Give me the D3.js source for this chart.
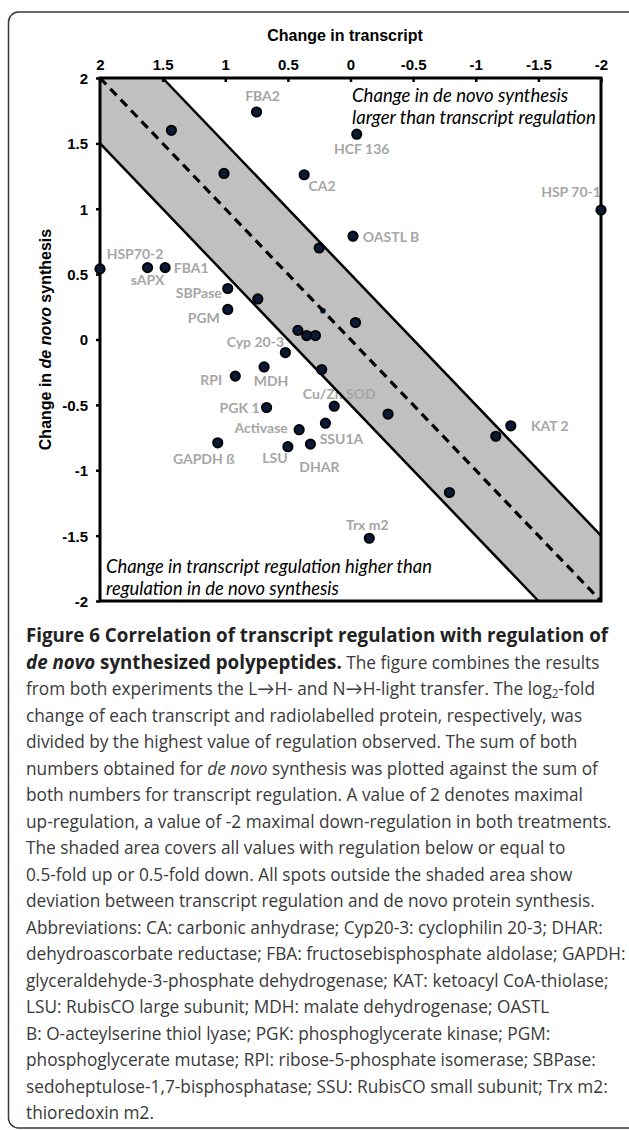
<!DOCTYPE html>
<html><head><meta charset="utf-8">
<script src="https://cdn.jsdelivr.net/npm/d3@7"></script>
<style>body{margin:0;background:#fff}</style>
</head><body>
<svg id="c" width="629" height="1130"></svg>
<script>
// ---------- data ----------
const labels = ["FBA2", null, "HCF 136", null, "CA2", "HSP 70-1", "OASTL B", null,
  "HSP70-2", "sAPX", "FBA1", "SBPase", null, "PGM", null, null, null, null, null,
  "Cyp 20-3", "MDH", "RPI", null, "Cu/Zn SOD", "PGK 1", null, "KAT 2", null,
  "SSU1A", "Activase", "GAPDH ß", "LSU", "DHAR", null, "Trx m2"];
const transcript = [0.75, 1.43, -0.05, 1.01, 0.37, -2.00, -0.02, 0.25,
  2.00, 1.62, 1.48, 0.98, 0.74, 0.98, 0.22, -0.04, 0.42, 0.35, 0.28,
  0.52, 0.69, 0.92, 0.23, 0.13, 0.67, -0.30, -1.28, -1.16,
  0.20, 0.41, 1.06, 0.50, 0.32, -0.79, -0.15];
const deNovo = [1.74, 1.60, 1.57, 1.27, 1.26, 0.99, 0.79, 0.70,
  0.54, 0.55, 0.55, 0.39, 0.31, 0.23, 0.22, 0.13, 0.07, 0.03, 0.03,
  -0.10, -0.21, -0.28, -0.23, -0.51, -0.52, -0.57, -0.66, -0.74,
  -0.64, -0.69, -0.79, -0.82, -0.80, -1.17, -1.52];
const xTicks = [2, 1.5, 1, 0.5, 0, -0.5, -1, -1.5, -2];
const yTicks = [2, 1.5, 1, 0.5, 0, -0.5, -1, -1.5, -2];
const bandHalfWidth = 0.5;
const xTitle = "Change in transcript";
const upperNote = ["Change in de novo synthesis", "larger than transcript regulation"];
const lowerNote = ["Change in transcript regulation higher than", "regulation in de novo synthesis"];

// ---------- layout (label offsets in px from point) ----------
const labelOffset = {
  "FBA2":[6,-16], "HCF 136":[5,14], "CA2":[18,11], "HSP 70-1":[-30,-19],
  "OASTL B":[38,0], "HSP70-2":[35,-15], "sAPX":[0,12], "FBA1":[26,0],
  "SBPase":[-29,4], "PGM":[-24,8], "Cyp 20-3":[-30,-11], "MDH":[7,14],
  "RPI":[-24,3], "Cu/Zn SOD":[5,-13], "PGK 1":[-27,0], "KAT 2":[39,0],
  "SSU1A":[16,15], "Activase":[-38,-2], "GAPDH ß":[-14,16], "LSU":[-13,11],
  "DHAR":[9,22], "Trx m2":[-2,-14]
};
const occluded = [14];

const caption = [
  [["Figure 6 Correlation of transcript regulation with regulation of","b"]],
  [["de novo","bi"],[" synthesized polypeptides.","b"],[" The figure combines the results","r"]],
  [["from both experiments the L\u2192H- and N\u2192H-light transfer. The log","r"],["2","sub"],["-fold","r"]],
  [["change of each transcript and radiolabelled protein, respectively, was","r"]],
  [["divided by the highest value of regulation observed. The sum of both","r"]],
  [["numbers obtained for ","r"],["de novo","i"],[" synthesis was plotted against the sum of","r"]],
  [["both numbers for transcript regulation. A value of 2 denotes maximal","r"]],
  [["up-regulation, a value of -2 maximal down-regulation in both treatments.","r"]],
  [["The shaded area covers all values with regulation below or equal to","r"]],
  [["0.5-fold up or 0.5-fold down. All spots outside the shaded area show","r"]],
  [["deviation between transcript regulation and de novo protein synthesis.","r"]],
  [["Abbreviations: CA: carbonic anhydrase; Cyp20-3: cyclophilin 20-3; DHAR:","r"]],
  [["dehydroascorbate reductase; FBA: fructosebisphosphate aldolase; GAPDH:","r"]],
  [["glyceraldehyde-3-phosphate dehydrogenase; KAT: ketoacyl CoA-thiolase;","r"]],
  [["LSU: RubisCO large subunit; MDH: malate dehydrogenase; OASTL","r"]],
  [["B: O-acteylserine thiol lyase; PGK: phosphoglycerate kinase; PGM:","r"]],
  [["phosphoglycerate mutase; RPI: ribose-5-phosphate isomerase; SBPase:","r"]],
  [["sedoheptulose-1,7-bisphosphatase; SSU: RubisCO small subunit; Trx m2:","r"]],
  [["thioredoxin m2.","r"]]
];

// ---------- drawing ----------
const svg = d3.select("#c");
const pts = transcript.map((t,i)=>({x:t, y:deNovo[i], label:labels[i], i}));

svg.append("rect").attr("x",8.5).attr("y",12).attr("width",660).attr("height",1116)
  .attr("rx",10).attr("fill","none").attr("stroke","#3a3a3a").attr("stroke-width",1.5);

const x = d3.scaleLinear().domain([2,-2]).range([100,601]);
const y = d3.scaleLinear().domain([2,-2]).range([78,601]);
const line = d3.line().x(d=>x(d[0])).y(d=>y(d[1]));
const h = bandHalfWidth;

// band
svg.append("path")
  .attr("d", line([[2,2],[2-h,2],[-2,-2+h],[-2,-2],[-2+h,-2],[2,2-h]]) + "Z")
  .attr("fill","#c0c0c0");

// labels
const g = svg.append("g");
pts.filter(d=>d.label).forEach(d=>{
  const o = labelOffset[d.label];
  g.append("text").attr("x", x(d.x)+o[0]).attr("y", y(d.y)+o[1])
    .attr("text-anchor","middle").attr("dominant-baseline","central")
    .attr("font-family","Lato, 'Open Sans', sans-serif").attr("font-weight","bold")
    .attr("font-size",14).attr("fill","#a6a6a6").text(d.label);
});

// band boundaries
[[[2-h,2],[-2,-2+h]], [[2,2-h],[-2+h,-2]]].forEach(seg=>{
  svg.append("path").attr("d", line(seg)).attr("stroke","#000").attr("stroke-width",2.5).attr("fill","none");
});

// frame
svg.append("rect").attr("x",x(2)).attr("y",y(2)).attr("width",x(-2)-x(2)).attr("height",y(-2)-y(2))
  .attr("fill","none").attr("stroke","#000").attr("stroke-width",3);

// axes
const axFont = "'Liberation Sans', Arial, sans-serif";
const fmt = d => String(d);
const xa = svg.append("g").attr("transform",`translate(0,${y(2)})`)
  .call(d3.axisTop(x).tickValues(xTicks).tickFormat(fmt).tickSizeInner(-4).tickSizeOuter(0).tickPadding(8));
const ya = svg.append("g").attr("transform",`translate(${x(2)},0)`)
  .call(d3.axisLeft(y).tickValues(yTicks).tickFormat(fmt).tickSizeInner(4).tickSizeOuter(0).tickPadding(8));
[xa,ya].forEach(a=>{
  a.select(".domain").remove();
  a.selectAll(".tick line").attr("stroke","#000").attr("stroke-width",2.5);
  a.selectAll(".tick text").attr("font-family",axFont).attr("font-weight","bold")
    .attr("font-size",15).attr("fill","#000");
});
ya.selectAll(".tick text").attr("dy","0.36em");

// points
const occ = new Set(occluded);
svg.append("g").selectAll("circle").data(pts.filter(d=>!occ.has(d.i))).join("circle")
  .attr("cx",d=>x(d.x)).attr("cy",d=>y(d.y)).attr("r",4.6)
  .attr("fill","#0a1a38").attr("stroke","#000").attr("stroke-width",2);
svg.append("g").selectAll("circle").data(pts.filter(d=>occ.has(d.i))).join("circle")
  .attr("cx",d=>x(d.x)).attr("cy",d=>y(d.y)).attr("r",3)
  .attr("fill","#1f3a6a");

// identity dashed line
svg.append("path").attr("d", line([[2,2],[-2,-2]])).attr("stroke","#000")
  .attr("stroke-width",3.2).attr("stroke-dasharray","9,6").attr("fill","none");

// titles
svg.append("text").attr("x",345).attr("y",35).attr("text-anchor","middle")
  .attr("dominant-baseline","central").attr("font-family",axFont).attr("font-weight","bold")
  .attr("font-size",16).attr("fill","#000").text(xTitle);
const yt = svg.append("text").attr("transform",`translate(45,${(y(2)+y(-2))/2}) rotate(-90)`)
  .attr("text-anchor","middle").attr("dominant-baseline","central")
  .attr("font-family",axFont).attr("font-weight","bold").attr("font-size",16).attr("fill","#000");
yt.append("tspan").text("Change in ");
yt.append("tspan").attr("font-style","italic").text("de novo");
yt.append("tspan").text(" synthesis");

// notes (italic), fitted to measured widths
function note(lines, x0, ys, targetW, which) {
  const ts = lines.map((t,k)=>svg.append("text").attr("x",x0).attr("y",ys[k])
    .attr("dominant-baseline","central").attr("font-family","Lato, 'Open Sans', sans-serif")
    .attr("font-style","italic").attr("font-size",16).attr("fill","#000").text(t));
  const w = ts[which].node().getComputedTextLength();
  const fs = 16*targetW/w;
  ts.forEach(t=>t.attr("font-size",fs));
}
note(upperNote, 352, [95,117], 244, 1);
note(lowerNote, 106, [566,587.5], 326, 0);

// caption
const capFont = "'Open Sans', Lato, sans-serif";
const cg = svg.append("g");
const capTexts = caption.map((segs,k)=>{
  const t = cg.append("text").attr("x",0).attr("y",635+k*26.5).attr("dominant-baseline","central")
    .attr("font-family",capFont).attr("font-size",18).attr("fill","#3a3a3a");
  let prevSub = false;
  segs.forEach(([s,st])=>{
    const sp = t.append("tspan").text(s);
    if (st==="b"||st==="bi") sp.attr("class","bold").attr("font-weight","bold").attr("fill","#222");
    if (st==="bi"||st==="i") sp.attr("font-style","italic");
    if (st==="sub") sp.attr("font-size",12).attr("dy",5);
    else if (prevSub) sp.attr("dy",-5);
    prevSub = (st==="sub");
  });
  return t;
});
const widths = capTexts.map(t=>t.node().getComputedTextLength());
const regW = d3.max(widths.slice(2));
const kx = Math.min(590 / widths[7], 600 / regW);
cg.attr("transform",`translate(26,0) scale(${kx},1)`);
// bold title line fitted to its measured width
const bw = capTexts[0].node().getComputedTextLength() * kx;
cg.selectAll("tspan.bold").attr("font-size", 18 * 582 / bw);
</script>
</body></html>
